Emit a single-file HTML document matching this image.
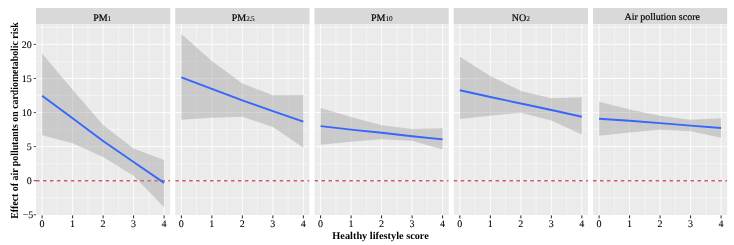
<!DOCTYPE html>
<html><head><meta charset="utf-8"><title>Effect of air pollutants on cardiometabolic risk</title>
<style>
html,body{margin:0;padding:0;background:#fff;}
body{width:734px;height:245px;overflow:hidden;font-family:"Liberation Serif",serif;}
svg{display:block;opacity:0.999;will-change:transform;}
text{font-family:"Liberation Serif",serif;text-rendering:geometricPrecision;}
.tick{font-size:10.0px;fill:#000;stroke:#000;stroke-width:0.08px;}
.strip{font-size:10.0px;fill:#000;stroke:#000;stroke-width:0.2px;}
.sub{font-size:7.3px;stroke-width:0.08px;}
.ttl{font-size:10.3px;font-weight:bold;fill:#000;}
</style></head><body>
<svg width="734" height="245" viewBox="0 0 734 245">
<rect width="734" height="245" fill="#ffffff"/>
<clipPath id="c0"><rect x="36.00" y="24.1" width="134.2" height="190.90"/></clipPath>
<rect x="36.00" y="8.0" width="134.2" height="16.10" fill="#d9d9d9"/>
<rect x="36.00" y="24.1" width="134.2" height="190.90" fill="#ebebeb"/>
<g clip-path="url(#c0)">
<line x1="36.00" x2="170.20" y1="197.74" y2="197.74" stroke="#fff" stroke-width="0.45"/>
<line x1="36.00" x2="170.20" y1="163.66" y2="163.66" stroke="#fff" stroke-width="0.45"/>
<line x1="36.00" x2="170.20" y1="129.59" y2="129.59" stroke="#fff" stroke-width="0.45"/>
<line x1="36.00" x2="170.20" y1="95.51" y2="95.51" stroke="#fff" stroke-width="0.45"/>
<line x1="36.00" x2="170.20" y1="61.44" y2="61.44" stroke="#fff" stroke-width="0.45"/>
<line x1="36.00" x2="170.20" y1="27.36" y2="27.36" stroke="#fff" stroke-width="0.45"/>
<line x1="57.35" x2="57.35" y1="24.1" y2="215.0" stroke="#fff" stroke-width="0.45"/>
<line x1="87.85" x2="87.85" y1="24.1" y2="215.0" stroke="#fff" stroke-width="0.45"/>
<line x1="118.35" x2="118.35" y1="24.1" y2="215.0" stroke="#fff" stroke-width="0.45"/>
<line x1="148.85" x2="148.85" y1="24.1" y2="215.0" stroke="#fff" stroke-width="0.45"/>
<line x1="36.00" x2="170.20" y1="180.70" y2="180.70" stroke="#fff" stroke-width="0.9"/>
<line x1="36.00" x2="170.20" y1="146.62" y2="146.62" stroke="#fff" stroke-width="0.9"/>
<line x1="36.00" x2="170.20" y1="112.55" y2="112.55" stroke="#fff" stroke-width="0.9"/>
<line x1="36.00" x2="170.20" y1="78.47" y2="78.47" stroke="#fff" stroke-width="0.9"/>
<line x1="36.00" x2="170.20" y1="44.40" y2="44.40" stroke="#fff" stroke-width="0.9"/>
<line x1="42.10" x2="42.10" y1="24.1" y2="215.0" stroke="#fff" stroke-width="0.9"/>
<line x1="72.60" x2="72.60" y1="24.1" y2="215.0" stroke="#fff" stroke-width="0.9"/>
<line x1="103.10" x2="103.10" y1="24.1" y2="215.0" stroke="#fff" stroke-width="0.9"/>
<line x1="133.60" x2="133.60" y1="24.1" y2="215.0" stroke="#fff" stroke-width="0.9"/>
<line x1="164.10" x2="164.10" y1="24.1" y2="215.0" stroke="#fff" stroke-width="0.9"/>
</g>
<line x1="42.10" x2="42.10" y1="215.40" y2="218.30" stroke="#222" stroke-width="1"/>
<text class="tick" x="42.10" y="226.8" text-anchor="middle">0</text>
<line x1="72.60" x2="72.60" y1="215.40" y2="218.30" stroke="#222" stroke-width="1"/>
<text class="tick" x="72.60" y="226.8" text-anchor="middle">1</text>
<line x1="103.10" x2="103.10" y1="215.40" y2="218.30" stroke="#222" stroke-width="1"/>
<text class="tick" x="103.10" y="226.8" text-anchor="middle">2</text>
<line x1="133.60" x2="133.60" y1="215.40" y2="218.30" stroke="#222" stroke-width="1"/>
<text class="tick" x="133.60" y="226.8" text-anchor="middle">3</text>
<line x1="164.10" x2="164.10" y1="215.40" y2="218.30" stroke="#222" stroke-width="1"/>
<text class="tick" x="164.10" y="226.8" text-anchor="middle">4</text>
<text class="strip" x="102.20" y="20.6" text-anchor="middle">PM<tspan class="sub" dy="0.5">1</tspan></text>
<clipPath id="c1"><rect x="175.25" y="24.1" width="134.2" height="190.90"/></clipPath>
<rect x="175.25" y="8.0" width="134.2" height="16.10" fill="#d9d9d9"/>
<rect x="175.25" y="24.1" width="134.2" height="190.90" fill="#ebebeb"/>
<g clip-path="url(#c1)">
<line x1="175.25" x2="309.45" y1="197.74" y2="197.74" stroke="#fff" stroke-width="0.45"/>
<line x1="175.25" x2="309.45" y1="163.66" y2="163.66" stroke="#fff" stroke-width="0.45"/>
<line x1="175.25" x2="309.45" y1="129.59" y2="129.59" stroke="#fff" stroke-width="0.45"/>
<line x1="175.25" x2="309.45" y1="95.51" y2="95.51" stroke="#fff" stroke-width="0.45"/>
<line x1="175.25" x2="309.45" y1="61.44" y2="61.44" stroke="#fff" stroke-width="0.45"/>
<line x1="175.25" x2="309.45" y1="27.36" y2="27.36" stroke="#fff" stroke-width="0.45"/>
<line x1="196.60" x2="196.60" y1="24.1" y2="215.0" stroke="#fff" stroke-width="0.45"/>
<line x1="227.10" x2="227.10" y1="24.1" y2="215.0" stroke="#fff" stroke-width="0.45"/>
<line x1="257.60" x2="257.60" y1="24.1" y2="215.0" stroke="#fff" stroke-width="0.45"/>
<line x1="288.10" x2="288.10" y1="24.1" y2="215.0" stroke="#fff" stroke-width="0.45"/>
<line x1="175.25" x2="309.45" y1="180.70" y2="180.70" stroke="#fff" stroke-width="0.9"/>
<line x1="175.25" x2="309.45" y1="146.62" y2="146.62" stroke="#fff" stroke-width="0.9"/>
<line x1="175.25" x2="309.45" y1="112.55" y2="112.55" stroke="#fff" stroke-width="0.9"/>
<line x1="175.25" x2="309.45" y1="78.47" y2="78.47" stroke="#fff" stroke-width="0.9"/>
<line x1="175.25" x2="309.45" y1="44.40" y2="44.40" stroke="#fff" stroke-width="0.9"/>
<line x1="181.35" x2="181.35" y1="24.1" y2="215.0" stroke="#fff" stroke-width="0.9"/>
<line x1="211.85" x2="211.85" y1="24.1" y2="215.0" stroke="#fff" stroke-width="0.9"/>
<line x1="242.35" x2="242.35" y1="24.1" y2="215.0" stroke="#fff" stroke-width="0.9"/>
<line x1="272.85" x2="272.85" y1="24.1" y2="215.0" stroke="#fff" stroke-width="0.9"/>
<line x1="303.35" x2="303.35" y1="24.1" y2="215.0" stroke="#fff" stroke-width="0.9"/>
</g>
<line x1="181.35" x2="181.35" y1="215.40" y2="218.30" stroke="#222" stroke-width="1"/>
<text class="tick" x="181.35" y="226.8" text-anchor="middle">0</text>
<line x1="211.85" x2="211.85" y1="215.40" y2="218.30" stroke="#222" stroke-width="1"/>
<text class="tick" x="211.85" y="226.8" text-anchor="middle">1</text>
<line x1="242.35" x2="242.35" y1="215.40" y2="218.30" stroke="#222" stroke-width="1"/>
<text class="tick" x="242.35" y="226.8" text-anchor="middle">2</text>
<line x1="272.85" x2="272.85" y1="215.40" y2="218.30" stroke="#222" stroke-width="1"/>
<text class="tick" x="272.85" y="226.8" text-anchor="middle">3</text>
<line x1="303.35" x2="303.35" y1="215.40" y2="218.30" stroke="#222" stroke-width="1"/>
<text class="tick" x="303.35" y="226.8" text-anchor="middle">4</text>
<text class="strip" x="243.15" y="20.6" text-anchor="middle">PM<tspan class="sub" dy="0.5">2<tspan dx="-0.35">.</tspan><tspan dx="-0.35">5</tspan></tspan></text>
<clipPath id="c2"><rect x="314.50" y="24.1" width="134.2" height="190.90"/></clipPath>
<rect x="314.50" y="8.0" width="134.2" height="16.10" fill="#d9d9d9"/>
<rect x="314.50" y="24.1" width="134.2" height="190.90" fill="#ebebeb"/>
<g clip-path="url(#c2)">
<line x1="314.50" x2="448.70" y1="197.74" y2="197.74" stroke="#fff" stroke-width="0.45"/>
<line x1="314.50" x2="448.70" y1="163.66" y2="163.66" stroke="#fff" stroke-width="0.45"/>
<line x1="314.50" x2="448.70" y1="129.59" y2="129.59" stroke="#fff" stroke-width="0.45"/>
<line x1="314.50" x2="448.70" y1="95.51" y2="95.51" stroke="#fff" stroke-width="0.45"/>
<line x1="314.50" x2="448.70" y1="61.44" y2="61.44" stroke="#fff" stroke-width="0.45"/>
<line x1="314.50" x2="448.70" y1="27.36" y2="27.36" stroke="#fff" stroke-width="0.45"/>
<line x1="335.85" x2="335.85" y1="24.1" y2="215.0" stroke="#fff" stroke-width="0.45"/>
<line x1="366.35" x2="366.35" y1="24.1" y2="215.0" stroke="#fff" stroke-width="0.45"/>
<line x1="396.85" x2="396.85" y1="24.1" y2="215.0" stroke="#fff" stroke-width="0.45"/>
<line x1="427.35" x2="427.35" y1="24.1" y2="215.0" stroke="#fff" stroke-width="0.45"/>
<line x1="314.50" x2="448.70" y1="180.70" y2="180.70" stroke="#fff" stroke-width="0.9"/>
<line x1="314.50" x2="448.70" y1="146.62" y2="146.62" stroke="#fff" stroke-width="0.9"/>
<line x1="314.50" x2="448.70" y1="112.55" y2="112.55" stroke="#fff" stroke-width="0.9"/>
<line x1="314.50" x2="448.70" y1="78.47" y2="78.47" stroke="#fff" stroke-width="0.9"/>
<line x1="314.50" x2="448.70" y1="44.40" y2="44.40" stroke="#fff" stroke-width="0.9"/>
<line x1="320.60" x2="320.60" y1="24.1" y2="215.0" stroke="#fff" stroke-width="0.9"/>
<line x1="351.10" x2="351.10" y1="24.1" y2="215.0" stroke="#fff" stroke-width="0.9"/>
<line x1="381.60" x2="381.60" y1="24.1" y2="215.0" stroke="#fff" stroke-width="0.9"/>
<line x1="412.10" x2="412.10" y1="24.1" y2="215.0" stroke="#fff" stroke-width="0.9"/>
<line x1="442.60" x2="442.60" y1="24.1" y2="215.0" stroke="#fff" stroke-width="0.9"/>
</g>
<line x1="320.60" x2="320.60" y1="215.40" y2="218.30" stroke="#222" stroke-width="1"/>
<text class="tick" x="320.60" y="226.8" text-anchor="middle">0</text>
<line x1="351.10" x2="351.10" y1="215.40" y2="218.30" stroke="#222" stroke-width="1"/>
<text class="tick" x="351.10" y="226.8" text-anchor="middle">1</text>
<line x1="381.60" x2="381.60" y1="215.40" y2="218.30" stroke="#222" stroke-width="1"/>
<text class="tick" x="381.60" y="226.8" text-anchor="middle">2</text>
<line x1="412.10" x2="412.10" y1="215.40" y2="218.30" stroke="#222" stroke-width="1"/>
<text class="tick" x="412.10" y="226.8" text-anchor="middle">3</text>
<line x1="442.60" x2="442.60" y1="215.40" y2="218.30" stroke="#222" stroke-width="1"/>
<text class="tick" x="442.60" y="226.8" text-anchor="middle">4</text>
<text class="strip" x="381.90" y="20.6" text-anchor="middle">PM<tspan class="sub" dy="0.5">10</tspan></text>
<clipPath id="c3"><rect x="453.75" y="24.1" width="134.2" height="190.90"/></clipPath>
<rect x="453.75" y="8.0" width="134.2" height="16.10" fill="#d9d9d9"/>
<rect x="453.75" y="24.1" width="134.2" height="190.90" fill="#ebebeb"/>
<g clip-path="url(#c3)">
<line x1="453.75" x2="587.95" y1="197.74" y2="197.74" stroke="#fff" stroke-width="0.45"/>
<line x1="453.75" x2="587.95" y1="163.66" y2="163.66" stroke="#fff" stroke-width="0.45"/>
<line x1="453.75" x2="587.95" y1="129.59" y2="129.59" stroke="#fff" stroke-width="0.45"/>
<line x1="453.75" x2="587.95" y1="95.51" y2="95.51" stroke="#fff" stroke-width="0.45"/>
<line x1="453.75" x2="587.95" y1="61.44" y2="61.44" stroke="#fff" stroke-width="0.45"/>
<line x1="453.75" x2="587.95" y1="27.36" y2="27.36" stroke="#fff" stroke-width="0.45"/>
<line x1="475.10" x2="475.10" y1="24.1" y2="215.0" stroke="#fff" stroke-width="0.45"/>
<line x1="505.60" x2="505.60" y1="24.1" y2="215.0" stroke="#fff" stroke-width="0.45"/>
<line x1="536.10" x2="536.10" y1="24.1" y2="215.0" stroke="#fff" stroke-width="0.45"/>
<line x1="566.60" x2="566.60" y1="24.1" y2="215.0" stroke="#fff" stroke-width="0.45"/>
<line x1="453.75" x2="587.95" y1="180.70" y2="180.70" stroke="#fff" stroke-width="0.9"/>
<line x1="453.75" x2="587.95" y1="146.62" y2="146.62" stroke="#fff" stroke-width="0.9"/>
<line x1="453.75" x2="587.95" y1="112.55" y2="112.55" stroke="#fff" stroke-width="0.9"/>
<line x1="453.75" x2="587.95" y1="78.47" y2="78.47" stroke="#fff" stroke-width="0.9"/>
<line x1="453.75" x2="587.95" y1="44.40" y2="44.40" stroke="#fff" stroke-width="0.9"/>
<line x1="459.85" x2="459.85" y1="24.1" y2="215.0" stroke="#fff" stroke-width="0.9"/>
<line x1="490.35" x2="490.35" y1="24.1" y2="215.0" stroke="#fff" stroke-width="0.9"/>
<line x1="520.85" x2="520.85" y1="24.1" y2="215.0" stroke="#fff" stroke-width="0.9"/>
<line x1="551.35" x2="551.35" y1="24.1" y2="215.0" stroke="#fff" stroke-width="0.9"/>
<line x1="581.85" x2="581.85" y1="24.1" y2="215.0" stroke="#fff" stroke-width="0.9"/>
</g>
<line x1="459.85" x2="459.85" y1="215.40" y2="218.30" stroke="#222" stroke-width="1"/>
<text class="tick" x="459.85" y="226.8" text-anchor="middle">0</text>
<line x1="490.35" x2="490.35" y1="215.40" y2="218.30" stroke="#222" stroke-width="1"/>
<text class="tick" x="490.35" y="226.8" text-anchor="middle">1</text>
<line x1="520.85" x2="520.85" y1="215.40" y2="218.30" stroke="#222" stroke-width="1"/>
<text class="tick" x="520.85" y="226.8" text-anchor="middle">2</text>
<line x1="551.35" x2="551.35" y1="215.40" y2="218.30" stroke="#222" stroke-width="1"/>
<text class="tick" x="551.35" y="226.8" text-anchor="middle">3</text>
<line x1="581.85" x2="581.85" y1="215.40" y2="218.30" stroke="#222" stroke-width="1"/>
<text class="tick" x="581.85" y="226.8" text-anchor="middle">4</text>
<text class="strip" x="520.85" y="20.6" text-anchor="middle">NO<tspan class="sub" dy="0.5">2</tspan></text>
<clipPath id="c4"><rect x="593.00" y="24.1" width="134.2" height="190.90"/></clipPath>
<rect x="593.00" y="8.0" width="134.2" height="16.10" fill="#d9d9d9"/>
<rect x="593.00" y="24.1" width="134.2" height="190.90" fill="#ebebeb"/>
<g clip-path="url(#c4)">
<line x1="593.00" x2="727.20" y1="197.74" y2="197.74" stroke="#fff" stroke-width="0.45"/>
<line x1="593.00" x2="727.20" y1="163.66" y2="163.66" stroke="#fff" stroke-width="0.45"/>
<line x1="593.00" x2="727.20" y1="129.59" y2="129.59" stroke="#fff" stroke-width="0.45"/>
<line x1="593.00" x2="727.20" y1="95.51" y2="95.51" stroke="#fff" stroke-width="0.45"/>
<line x1="593.00" x2="727.20" y1="61.44" y2="61.44" stroke="#fff" stroke-width="0.45"/>
<line x1="593.00" x2="727.20" y1="27.36" y2="27.36" stroke="#fff" stroke-width="0.45"/>
<line x1="614.35" x2="614.35" y1="24.1" y2="215.0" stroke="#fff" stroke-width="0.45"/>
<line x1="644.85" x2="644.85" y1="24.1" y2="215.0" stroke="#fff" stroke-width="0.45"/>
<line x1="675.35" x2="675.35" y1="24.1" y2="215.0" stroke="#fff" stroke-width="0.45"/>
<line x1="705.85" x2="705.85" y1="24.1" y2="215.0" stroke="#fff" stroke-width="0.45"/>
<line x1="593.00" x2="727.20" y1="180.70" y2="180.70" stroke="#fff" stroke-width="0.9"/>
<line x1="593.00" x2="727.20" y1="146.62" y2="146.62" stroke="#fff" stroke-width="0.9"/>
<line x1="593.00" x2="727.20" y1="112.55" y2="112.55" stroke="#fff" stroke-width="0.9"/>
<line x1="593.00" x2="727.20" y1="78.47" y2="78.47" stroke="#fff" stroke-width="0.9"/>
<line x1="593.00" x2="727.20" y1="44.40" y2="44.40" stroke="#fff" stroke-width="0.9"/>
<line x1="599.10" x2="599.10" y1="24.1" y2="215.0" stroke="#fff" stroke-width="0.9"/>
<line x1="629.60" x2="629.60" y1="24.1" y2="215.0" stroke="#fff" stroke-width="0.9"/>
<line x1="660.10" x2="660.10" y1="24.1" y2="215.0" stroke="#fff" stroke-width="0.9"/>
<line x1="690.60" x2="690.60" y1="24.1" y2="215.0" stroke="#fff" stroke-width="0.9"/>
<line x1="721.10" x2="721.10" y1="24.1" y2="215.0" stroke="#fff" stroke-width="0.9"/>
</g>
<line x1="599.10" x2="599.10" y1="215.40" y2="218.30" stroke="#222" stroke-width="1"/>
<text class="tick" x="599.10" y="226.8" text-anchor="middle">0</text>
<line x1="629.60" x2="629.60" y1="215.40" y2="218.30" stroke="#222" stroke-width="1"/>
<text class="tick" x="629.60" y="226.8" text-anchor="middle">1</text>
<line x1="660.10" x2="660.10" y1="215.40" y2="218.30" stroke="#222" stroke-width="1"/>
<text class="tick" x="660.10" y="226.8" text-anchor="middle">2</text>
<line x1="690.60" x2="690.60" y1="215.40" y2="218.30" stroke="#222" stroke-width="1"/>
<text class="tick" x="690.60" y="226.8" text-anchor="middle">3</text>
<line x1="721.10" x2="721.10" y1="215.40" y2="218.30" stroke="#222" stroke-width="1"/>
<text class="tick" x="721.10" y="226.8" text-anchor="middle">4</text>
<text class="strip" x="662.20" y="19.6" text-anchor="middle">Air pollution score</text>
<g clip-path="url(#c0)">
<line x1="36.00" x2="170.20" y1="180.70" y2="180.70" stroke="#cf5c63" stroke-width="1.4" stroke-dasharray="3.55,3.412"/>
<polygon points="42.10,53.40 72.60,89.86 103.10,124.95 133.60,148.40 164.10,160.05 164.10,207.28 133.60,175.73 103.10,156.98 72.60,143.35 42.10,135.18" fill="#999999" fill-opacity="0.4"/>
<polyline points="42.10,95.65 72.60,118.14 103.10,140.97 133.60,161.96 164.10,182.88" fill="none" stroke="#3567fb" stroke-width="1.9" stroke-linejoin="round" stroke-linecap="butt"/>
</g>
<g clip-path="url(#c1)">
<line x1="175.25" x2="309.45" y1="180.70" y2="180.70" stroke="#cf5c63" stroke-width="1.4" stroke-dasharray="3.55,3.412"/>
<polygon points="181.35,33.97 211.85,60.89 242.35,83.38 272.85,95.24 303.35,94.97 303.35,147.72 272.85,127.00 242.35,116.64 211.85,117.87 181.35,119.64" fill="#999999" fill-opacity="0.4"/>
<polyline points="181.35,77.38 211.85,88.83 242.35,100.28 272.85,111.12 303.35,121.61" fill="none" stroke="#3567fb" stroke-width="1.9" stroke-linejoin="round" stroke-linecap="butt"/>
</g>
<g clip-path="url(#c2)">
<line x1="314.50" x2="448.70" y1="180.70" y2="180.70" stroke="#cf5c63" stroke-width="1.4" stroke-dasharray="3.55,3.412"/>
<polygon points="320.60,108.12 351.10,117.12 381.60,125.23 412.10,128.91 442.60,128.16 442.60,149.49 412.10,140.83 381.60,139.26 351.10,141.65 320.60,144.85" fill="#999999" fill-opacity="0.4"/>
<polyline points="320.60,126.18 351.10,129.59 381.60,132.79 412.10,136.20 442.60,139.40" fill="none" stroke="#3567fb" stroke-width="1.9" stroke-linejoin="round" stroke-linecap="butt"/>
</g>
<g clip-path="url(#c3)">
<line x1="453.75" x2="587.95" y1="180.70" y2="180.70" stroke="#cf5c63" stroke-width="1.4" stroke-dasharray="3.55,3.412"/>
<polygon points="459.85,56.80 490.35,75.89 520.85,90.88 551.35,98.17 581.85,97.35 581.85,134.49 551.35,120.52 520.85,112.69 490.35,115.75 459.85,118.96" fill="#999999" fill-opacity="0.4"/>
<polyline points="459.85,90.20 490.35,97.01 520.85,103.49 551.35,109.96 581.85,116.78" fill="none" stroke="#3567fb" stroke-width="1.9" stroke-linejoin="round" stroke-linecap="butt"/>
</g>
<g clip-path="url(#c4)">
<line x1="593.00" x2="727.20" y1="180.70" y2="180.70" stroke="#cf5c63" stroke-width="1.4" stroke-dasharray="3.55,3.412"/>
<polygon points="599.10,101.78 629.60,109.62 660.10,115.75 690.60,119.84 721.10,118.14 721.10,137.70 690.60,131.22 660.10,129.72 629.60,132.45 599.10,135.86" fill="#999999" fill-opacity="0.4"/>
<polyline points="599.10,118.75 629.60,120.73 660.10,123.11 690.60,125.63 721.10,128.02" fill="none" stroke="#3567fb" stroke-width="1.9" stroke-linejoin="round" stroke-linecap="butt"/>
</g>
<line x1="33.70" x2="36.0" y1="214.77" y2="214.77" stroke="#333" stroke-width="0.9"/>
<text class="tick" x="33.3" y="218.17" text-anchor="end">−5</text>
<line x1="33.70" x2="36.0" y1="180.70" y2="180.70" stroke="#333" stroke-width="0.9"/>
<text class="tick" x="31.8" y="184.10" text-anchor="end">0</text>
<line x1="33.70" x2="36.0" y1="146.62" y2="146.62" stroke="#333" stroke-width="0.9"/>
<text class="tick" x="31.8" y="150.03" text-anchor="end">5</text>
<line x1="33.70" x2="36.0" y1="112.55" y2="112.55" stroke="#333" stroke-width="0.9"/>
<text class="tick" x="31.8" y="115.95" text-anchor="end">10</text>
<line x1="33.70" x2="36.0" y1="78.47" y2="78.47" stroke="#333" stroke-width="0.9"/>
<text class="tick" x="31.8" y="81.87" text-anchor="end">15</text>
<line x1="33.70" x2="36.0" y1="44.40" y2="44.40" stroke="#333" stroke-width="0.9"/>
<text class="tick" x="31.8" y="47.80" text-anchor="end">20</text>
<text class="ttl" x="380.6" y="238.7" text-anchor="middle">Healthy lifestyle score</text>
<text class="ttl" style="font-size:10.7px" transform="translate(18.3,120.5) rotate(-90) scale(0.92,1)" text-anchor="middle">Effect of air pollutants on cardiometabolic risk</text>
</svg></body></html>
